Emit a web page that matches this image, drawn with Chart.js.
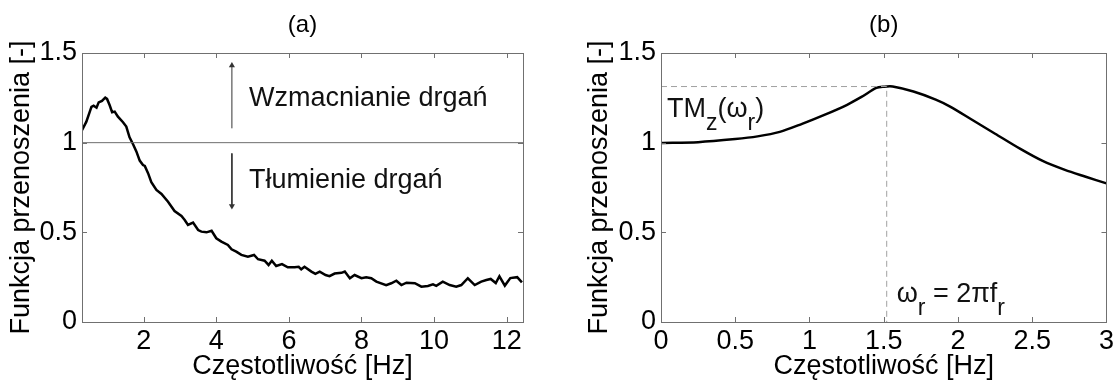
<!DOCTYPE html>
<html>
<head>
<meta charset="utf-8">
<script src="https://cdn.jsdelivr.net/npm/chart.js@4.4.1/dist/chart.umd.min.js"></script>
<style>
  html, body { margin: 0; padding: 0; background: #fff; }
  #wrap { position: relative; width: 1117px; height: 380px; }
  canvas { position: absolute; top: 0; }
  #chart-a { left: 0; }
  #chart-b { left: 558px; }
</style>
</head>
<body>
<div id="wrap">
  <canvas id="chart-a" width="558" height="380"></canvas>
  <canvas id="chart-b" width="559" height="380"></canvas>
</div>
<script>
// (a) measured transfer function
const freqA = [0.30, 0.42, 0.56, 0.62, 0.70, 0.76, 0.85, 0.94, 0.99, 1.06, 1.13, 1.20, 1.29, 1.43, 1.52,
  1.61, 1.71, 1.80, 1.89, 1.98, 2.03, 2.12, 2.21, 2.35, 2.49, 2.67, 2.85, 3.04, 3.13, 3.22, 3.36, 3.50,
  3.59, 3.73, 3.87, 4.00, 4.14, 4.32, 4.42, 4.55, 4.69, 4.87, 5.04, 5.15, 5.33, 5.44, 5.53, 5.65, 5.81,
  5.97, 6.16, 6.27, 6.34, 6.43, 6.62, 6.73, 6.85, 7.01, 7.12, 7.26, 7.45, 7.54, 7.68, 7.81, 8.00, 8.13,
  8.27, 8.41, 8.68, 8.82, 8.96, 9.10, 9.24, 9.47, 9.65, 9.83, 9.97, 10.06, 10.24, 10.43, 10.61, 10.75,
  10.93, 11.12, 11.30, 11.44, 11.56, 11.70, 11.80, 11.95, 12.10, 12.29, 12.42];
const tmA = [1.07, 1.117, 1.20, 1.206, 1.195, 1.225, 1.233, 1.251, 1.244, 1.21, 1.17, 1.173, 1.145, 1.114, 1.09,
  1.03, 0.99, 0.95, 0.90, 0.875, 0.87, 0.83, 0.78, 0.736, 0.714, 0.671, 0.619, 0.591, 0.569, 0.541, 0.554, 0.513,
  0.504, 0.50, 0.509, 0.467, 0.448, 0.43, 0.405, 0.392, 0.374, 0.364, 0.374, 0.35, 0.342, 0.318, 0.342, 0.312, 0.323,
  0.305, 0.305, 0.308, 0.294, 0.308, 0.281, 0.268, 0.281, 0.262, 0.256, 0.270, 0.274, 0.281, 0.244, 0.262, 0.244, 0.249,
  0.244, 0.225, 0.206, 0.216, 0.23, 0.206, 0.219, 0.216, 0.197, 0.201, 0.21, 0.202, 0.225, 0.206, 0.197, 0.206,
  0.244, 0.206, 0.225, 0.234, 0.24, 0.217, 0.255, 0.203, 0.245, 0.25, 0.221];
const xTicksA = [2, 4, 6, 8, 10, 12];
const xRangeA = [0.3, 12.45];
const refLevel = 1;
const arrowX = 4.43;
const arrowUp = [1.08, 1.43];
const arrowDown = [0.94, 0.647];

// (b) model transfer function
const freqB = [0, 0.25, 0.5, 0.65, 0.8, 0.95, 1.1, 1.25, 1.35, 1.45, 1.5, 1.56, 1.7, 1.85, 1.95, 2.1, 2.25,
  2.42, 2.57, 2.72, 2.86, 3.0];
const tmB = [0.998, 1.003, 1.02, 1.035, 1.06, 1.105, 1.155, 1.21, 1.255, 1.305, 1.312, 1.313, 1.285, 1.24, 1.2,
  1.125, 1.05, 0.965, 0.898, 0.848, 0.81, 0.773];
const xTicksB = [0, 0.5, 1, 1.5, 2, 2.5, 3];
const peakB = { x: 1.52, y: 1.313 };

const yTicks = [0, 0.5, 1, 1.5];

const FONT = "'Liberation Sans', Arial, sans-serif";
const FS = 27;
Chart.defaults.font.family = FONT;
Chart.defaults.color = '#000';

// MATLAB-like box with inward ticks
const boxPlugin = {
  id: 'box',
  afterDatasetsDraw(chart) {
    const { ctx, chartArea: a, scales: { x, y } } = chart;
    ctx.save();
    ctx.strokeStyle = '#707070';
    ctx.lineWidth = 1;
    ctx.strokeRect(Math.round(a.left) + 0.5, Math.round(a.top) + 0.5,
      Math.round(a.right - a.left), Math.round(a.bottom - a.top));
    ctx.beginPath();
    x.ticks.forEach(t => {
      const px = Math.round(x.getPixelForValue(t.value)) + 0.5;
      ctx.moveTo(px, a.bottom); ctx.lineTo(px, a.bottom - 5);
      ctx.moveTo(px, a.top); ctx.lineTo(px, a.top + 5);
    });
    y.ticks.forEach(t => {
      const py = Math.round(y.getPixelForValue(t.value)) + 0.5;
      ctx.moveTo(a.left, py); ctx.lineTo(a.left + 5, py);
      ctx.moveTo(a.right, py); ctx.lineTo(a.right - 5, py);
    });
    ctx.stroke();
    ctx.restore();
  }
};

// text notes placed at data coordinates, parts may be subscripts
const notesPlugin = {
  id: 'notes',
  afterDatasetsDraw(chart, args, opts) {
    const { ctx, scales: { x, y } } = chart;
    (opts.items || []).forEach(item => {
      let px = x.getPixelForValue(item.x);
      const py = y.getPixelForValue(item.y);
      ctx.save();
      ctx.fillStyle = '#111';
      ctx.textBaseline = 'alphabetic';
      ctx.textAlign = 'left';
      item.parts.forEach(p => {
        ctx.font = (p.sub ? 23 : FS) + 'px ' + FONT;
        ctx.fillText(p.t, px, py + (p.sub ? 13 : 0));
        px += ctx.measureText(p.t).width;
      });
      ctx.restore();
    });
  }
};
Chart.register(boxPlugin, notesPlugin);

function pts(xs, ys) {
  return xs.map((v, i) => ({ x: v, y: ys[i] }));
}

function makeOptions(cfg) {
  return {
    responsive: false,
    animation: false,
    layout: { padding: { left: 0, right: cfg.padRight, top: 0, bottom: 0 } },
    plugins: {
      legend: { display: false },
      tooltip: { enabled: false },
      title: {
        display: true, text: cfg.title, fullSize: false,
        font: { size: 24, weight: 'normal', lineHeight: 1.2 }, color: '#000',
        padding: { top: 11, bottom: 13.2 }
      },
      notes: { items: cfg.notes }
    },
    scales: {
      x: {
        type: 'linear', min: cfg.xRange[0], max: cfg.xRange[1],
        grid: { display: false, drawTicks: false }, border: { display: false },
        afterBuildTicks: s => { s.ticks = cfg.xTicks.map(v => ({ value: v })); },
        afterFit: s => { s.height = 58; },
        ticks: { font: { size: FS, lineHeight: 1.2 }, padding: 3, maxRotation: 0, autoSkip: false, callback: v => String(v) },
        title: { display: true, text: 'Częstotliwość [Hz]', font: { size: FS, lineHeight: 1 }, padding: { top: 0, bottom: 0 } }
      },
      y: {
        min: 0, max: 1.5,
        grid: { display: false, drawTicks: false }, border: { display: false },
        afterBuildTicks: s => { s.ticks = yTicks.map(v => ({ value: v })); },
        afterFit: s => { s.width = cfg.yWidth; },
        ticks: { font: { size: FS }, padding: 5, callback: v => String(v) },
        title: { display: true, text: 'Funkcja przenoszenia [-]', font: { size: FS, lineHeight: 1 }, padding: { top: cfg.yTitlePad, bottom: 0 } }
      }
    }
  };
}

new Chart(document.getElementById('chart-a'), {
  type: 'scatter',
  data: {
    datasets: [
      { data: pts(xRangeA, [refLevel, refLevel]), showLine: true, borderColor: '#6e6e6e', borderWidth: 1, pointRadius: 0 },
      { data: pts([arrowX, arrowX], arrowUp), showLine: true, borderColor: '#333', borderWidth: 1,
        pointStyle: 'triangle', pointRadius: [0, 3.5], rotation: 0, backgroundColor: '#333', pointBorderWidth: 0 },
      { data: pts([arrowX, arrowX], arrowDown), showLine: true, borderColor: '#333', borderWidth: 1,
        pointStyle: 'triangle', pointRadius: [0, 3.5], rotation: 180, backgroundColor: '#333', pointBorderWidth: 0 },
      { data: pts(freqA, tmA), showLine: true, borderColor: '#000', borderWidth: 2.5, pointRadius: 0, tension: 0 }
    ]
  },
  options: makeOptions({
    title: '(a)', xRange: xRangeA, xTicks: xTicksA, padRight: 35, yWidth: 82, yTitlePad: 8,
    notes: [
      { x: 4.90, y: 1.205, parts: [{ t: 'Wzmacnianie drgań' }] },
      { x: 4.90, y: 0.746, parts: [{ t: 'Tłumienie drgań' }] }
    ]
  })
});

new Chart(document.getElementById('chart-b'), {
  type: 'scatter',
  data: {
    datasets: [
      { data: [{ x: 0, y: peakB.y }, peakB, { x: peakB.x, y: 0 }], showLine: true, borderColor: '#a0a0a0',
        borderWidth: 1, borderDash: [6, 4], pointRadius: 0 },
      { data: pts(freqB, tmB), showLine: true, borderColor: '#000', borderWidth: 2.5, pointRadius: 0, tension: 0.3 }
    ]
  },
  options: makeOptions({
    title: '(b)', xRange: [0, 3], xTicks: xTicksB, padRight: 10, yWidth: 103, yTitlePad: 28.5,
    notes: [
      { x: 0.04, y: 1.145, parts: [{ t: 'TM' }, { t: 'z', sub: true }, { t: '(ω' }, { t: 'r', sub: true }, { t: ')' }] },
      { x: 1.587, y: 0.112, parts: [{ t: 'ω' }, { t: 'r', sub: true }, { t: ' = 2πf' }, { t: 'r', sub: true }] }
    ]
  })
});
</script>
</body>
</html>
